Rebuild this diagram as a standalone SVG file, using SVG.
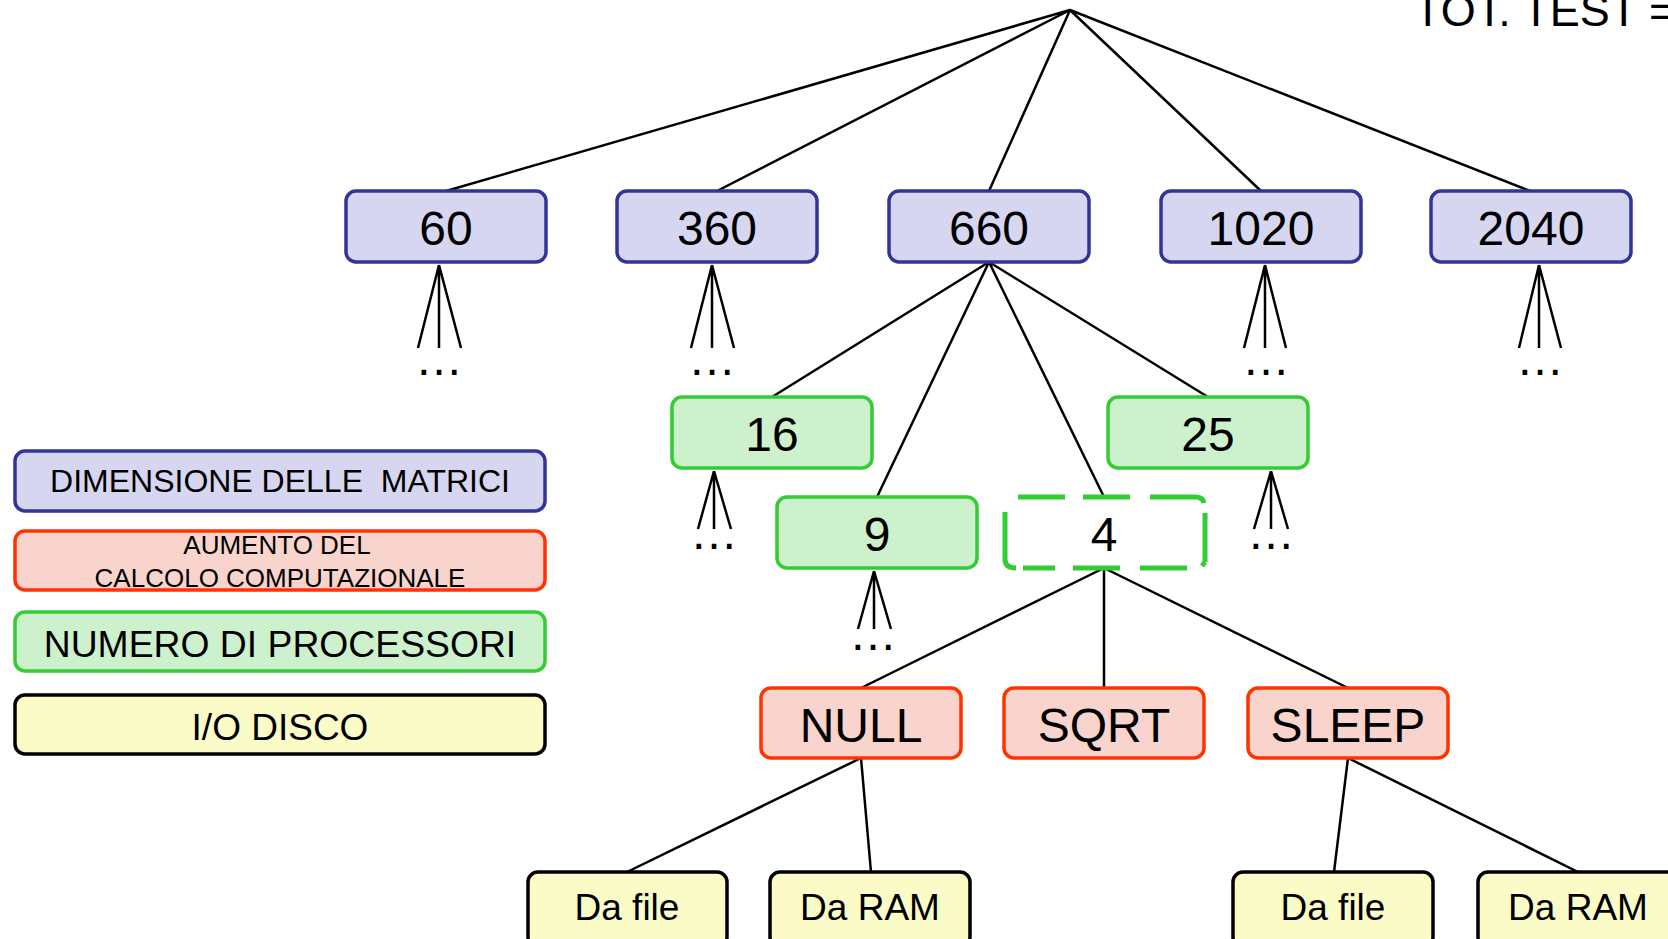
<svg xmlns="http://www.w3.org/2000/svg" width="1668" height="939" viewBox="0 0 1668 939">
<style>
  text { font-family: "Liberation Sans", Arial, sans-serif; fill: #000; text-anchor: middle; }
  .big { font-size: 48px; }
  .io { font-size: 37px; }
  .dots { font-size: 48px; }
  .blue { fill: #d6d6f0; stroke: #333399; stroke-width: 3.5; }
  .green { fill: #cdf0cd; stroke: #33cc33; stroke-width: 3.5; }
  .red { fill: #f9d4cc; stroke: #ff3300; stroke-width: 3.5; }
  .yellow { fill: #fbfbc8; stroke: #000; stroke-width: 3.5; }
  .conn { stroke: #000; stroke-width: 2.5; fill: none; stroke-linecap: round; }
  .fan { stroke: #000; stroke-width: 2.5; fill: none; }
  .dash { stroke: #33cc33; stroke-width: 5; fill: none; }
</style>
<rect width="1668" height="939" fill="#fff"/>

<text x="1414" y="26" style="font-size:45px;text-anchor:start">TOT. TEST =</text>

<g id="connectors">
  <path class="conn" d="M1070,10 L446,191 M1070,10 L717,191 M1070,10 L989,191 M1070,10 L1261,191 M1070,10 L1530,191"/>
  <path class="conn" d="M989,262 L772,397 M989,262 L877,497 M989,262 L1104,497 M989,262 L1208,397"/>
  <path class="conn" d="M1104,568 L861,688 M1104,568 L1104,688 M1104,568 L1348,688"/>
  <path class="conn" d="M861,758 L627,872 M861,758 L871,872"/>
  <path class="conn" d="M1348,758 L1334,872 M1348,758 L1578,872"/>
  <!-- fans -->
  <path class="fan" d="M439,265 L418,348 M439,265 L439,348 M439,265 L461,348"/>
  <path class="fan" d="M712,265 L691,348 M712,265 L712,348 M712,265 L734,348"/>
  <path class="fan" d="M1265,265 L1244,348 M1265,265 L1265,348 M1265,265 L1286,348"/>
  <path class="fan" d="M1539,265 L1519,348 M1539,265 L1539,348 M1539,265 L1561,348"/>
  <path class="fan" d="M714,471 L698,529 M714,471 L714,529 M714,471 L731,529"/>
  <path class="fan" d="M1271,471 L1254,529 M1271,471 L1271,529 M1271,471 L1288,529"/>
  <path class="fan" d="M874,571 L858,629 M874,571 L874,629 M874,571 L891,629"/>
</g>

<g id="ellipses">
  <text class="dots" x="439" y="375">…</text>
  <text class="dots" x="712" y="375">…</text>
  <text class="dots" x="1266" y="375">…</text>
  <text class="dots" x="1540" y="375">…</text>
  <text class="dots" x="714" y="549">…</text>
  <text class="dots" x="1271" y="549">…</text>
  <text class="dots" x="873" y="650">…</text>
</g>

<g id="n60"><rect class="blue" x="346" y="191" width="200" height="71" rx="10"/><text class="big" x="446" y="245">60</text></g>
<g id="n360"><rect class="blue" x="617" y="191" width="200" height="71" rx="10"/><text class="big" x="717" y="245">360</text></g>
<g id="n660"><rect class="blue" x="889" y="191" width="200" height="71" rx="10"/><text class="big" x="989" y="245">660</text></g>
<g id="n1020"><rect class="blue" x="1161" y="191" width="200" height="71" rx="10"/><text class="big" x="1261" y="245">1020</text></g>
<g id="n2040"><rect class="blue" x="1431" y="191" width="200" height="71" rx="10"/><text class="big" x="1531" y="245">2040</text></g>

<g id="n16"><rect class="green" x="672" y="397" width="200" height="71" rx="10"/><text class="big" x="772" y="451">16</text></g>
<g id="n25"><rect class="green" x="1108" y="397" width="200" height="71" rx="10"/><text class="big" x="1208" y="451">25</text></g>
<g id="n9"><rect class="green" x="777" y="497" width="200" height="71" rx="10"/><text class="big" x="877" y="551">9</text></g>
<g id="n4">
  <path class="dash" d="M1018,497 H1065 M1083,497 H1130 M1150,497 H1195 Q1203,497 1204,503 M1205,513 V562 M1023,568 H1055 M1073,568 H1120 M1140,568 H1187 M1202,566 L1205,562 M1005,512 V559 Q1005,568 1016,568"/>
  <text class="big" x="1104" y="551">4</text>
</g>

<g id="nNULL"><rect class="red" x="761" y="688" width="200" height="70" rx="10"/><text class="big" x="861" y="742">NULL</text></g>
<g id="nSQRT"><rect class="red" x="1004" y="688" width="200" height="70" rx="10"/><text class="big" x="1104" y="742">SQRT</text></g>
<g id="nSLEEP"><rect class="red" x="1248" y="688" width="200" height="70" rx="10"/><text class="big" x="1348" y="742">SLEEP</text></g>

<g id="nFile1"><rect class="yellow" x="528" y="872" width="199" height="75" rx="10"/><text class="io" x="627" y="920">Da file</text></g>
<g id="nRAM1"><rect class="yellow" x="770" y="872" width="200" height="75" rx="10"/><text class="io" x="870" y="920">Da RAM</text></g>
<g id="nFile2"><rect class="yellow" x="1233" y="872" width="200" height="75" rx="10"/><text class="io" x="1333" y="920">Da file</text></g>
<g id="nRAM2"><rect class="yellow" x="1478" y="872" width="200" height="75" rx="10"/><text class="io" x="1578" y="920">Da RAM</text></g>

<g id="legend-dim"><rect class="blue" x="15" y="451" width="530" height="60" rx="10"/><text x="280" y="492" style="font-size:32px" xml:space="preserve">DIMENSIONE DELLE  MATRICI</text></g>
<g id="legend-calc"><rect class="red" x="15" y="531" width="530" height="59" rx="10"/><text x="277" y="554" style="font-size:26px">AUMENTO DEL</text><text x="280" y="587" style="font-size:26px">CALCOLO COMPUTAZIONALE</text></g>
<g id="legend-proc"><rect class="green" x="15" y="612" width="530" height="59" rx="10"/><text x="280" y="657" style="font-size:37.3px">NUMERO DI PROCESSORI</text></g>
<g id="legend-io"><rect class="yellow" x="15" y="695" width="530" height="59" rx="10"/><text x="280" y="740" style="font-size:37px">I/O DISCO</text></g>
</svg>
